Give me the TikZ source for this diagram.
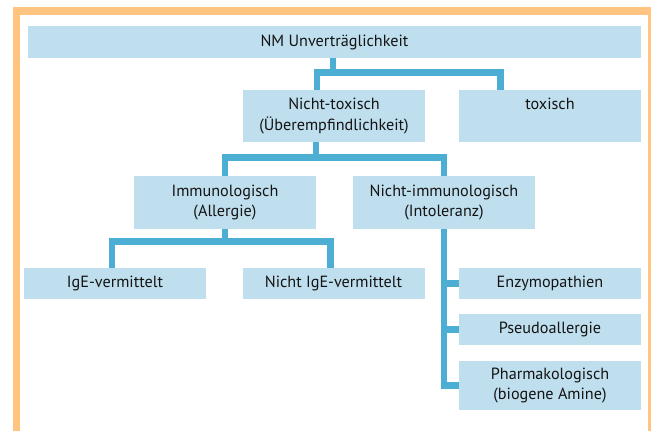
\documentclass[tikz,border=0pt]{standalone}
\usepackage{fontspec}
\setmainfont{PT Sans}
\usetikzlibrary{calc}
\definecolor{rahmen}{HTML}{FFC580}
\definecolor{kastenblau}{HTML}{BFDFEE}
\definecolor{linienblau}{HTML}{4BAED2}
\definecolor{schrift}{HTML}{141414}
\tikzset{
  kasten/.style={fill=kastenblau, inner sep=0pt, minimum width=182pt, align=center,
    text=schrift, font=\fontsize{16.2}{20.5}\selectfont},
  verbinder/.style={draw=linienblau, line width=6.6pt}
}
\begin{document}
\begin{tikzpicture}[x=1pt,y=-1pt]
  \useasboundingbox (0,0) rectangle (651,431);
  \clip (0,0) rectangle (651,431);
  % Rahmen
  \draw[rahmen, line width=7.5pt] (16.5,445) -- (16.5,11) -- (651.5,11) -- (651.5,445);
  % Kaesten
  \node[kasten, minimum width=613pt, minimum height=32pt] (nm) at (334.5,42) {NM Unverträglichkeit};
  \node[kasten, minimum height=52pt] (nt) at (334,116) {Nicht-toxisch\\(Überempfindlichkeit)};
  \node[kasten, minimum height=52pt] (tox) at (550,116) {toxisch\\\phantom{(}};
  \node[kasten, minimum height=53pt] (imm) at (225,202.5) {Immunologisch\\(Allergie)};
  \node[kasten, minimum height=53pt] (nim) at (444,202.5) {Nicht-immunologisch\\(Intoleranz)};
  \node[kasten, minimum height=31pt] (ige) at (115,283.5) {IgE-vermittelt};
  \node[kasten, minimum height=31pt] (nige) at (333.5,283.5) {Nicht IgE-vermittelt};
  \node[kasten, minimum height=31pt] (enz) at (550,283.5) {Enzymopathien};
  \node[kasten, minimum height=31pt] (pseudo) at (550,329.5) {Pseudoallergie};
  \node[kasten, minimum height=49pt] (pharm) at (550,385.5) {Pharmakologisch\\(biogene Amine)};
  % Verbindungen
  \coordinate (j1) at ($(nm.south)+(-1.5,14)$);
  \draw[verbinder] ([xshift=-1.5pt]nm.south) -- (j1);
  \draw[verbinder] ([xshift=-17pt]nt.north) |- (j1) -| ([xshift=-49.5pt]tox.north);
  \coordinate (j2) at ($(nt.south)+(-18,15.5)$);
  \draw[verbinder] ([xshift=-18pt]nt.south) -- (j2);
  \draw[verbinder] (imm.north) |- (j2) -| (nim.north);
  \coordinate (j3) at ($(imm.south)+(0,12)$);
  \draw[verbinder] (imm.south) -- (j3);
  \draw[verbinder] ([xshift=-3pt]ige.north) |- (j3) -| ([xshift=-3pt]nige.north);
  \draw[verbinder] (nim.south) |- (pharm.west);
  \draw[verbinder] (enz.west -| nim.south) -- (enz.west);
  \draw[verbinder] (pseudo.west -| nim.south) -- (pseudo.west);
\end{tikzpicture}
\end{document}
